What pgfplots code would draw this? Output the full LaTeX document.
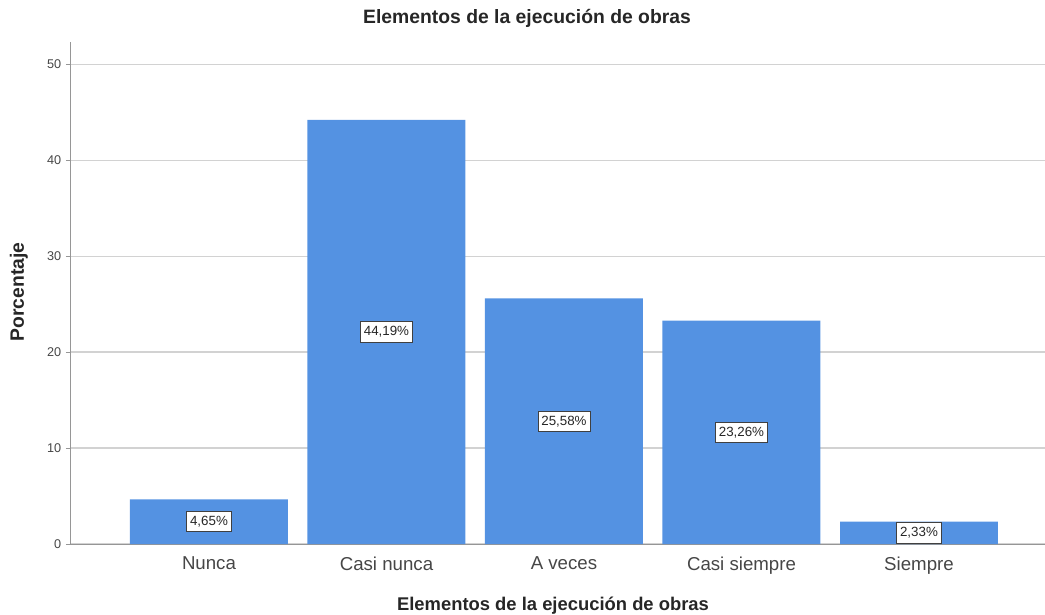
\documentclass[border=0pt]{standalone}
\usepackage{fontspec}
\setmainfont{Liberation Sans}
\usepackage{pgfplots}
\usepackage{pgfplotstable}
\pgfplotsset{compat=1.18}
\definecolor{barblue}{RGB}{84,146,226}
\definecolor{gridgray}{RGB}{210,210,210}
\definecolor{axgray}{RGB}{150,150,150}
\definecolor{txtgray}{RGB}{70,70,70}
\pgfplotstableread{
x v lab
0 4.65 4,65
1 44.19 44,19
2 25.58 25,58
3 23.26 23,26
4 2.33 2,33
}\datatable
\begin{document}
\begin{tikzpicture}[x=0.75pt,y=0.75pt]
\useasboundingbox (0,0) rectangle (1045,614);
\begin{axis}[
  at={(52.5pt,52.5pt)}, anchor=south west,
  scale only axis, width=731.25pt, height=376.5pt,
  xmin=-0.783, xmax=4.71, ymin=0, ymax=52.3,
  axis x line*=bottom, axis y line*=left,
  axis line style={axgray, -},
  xtick=data, xticklabels={Nunca,Casi nunca,A veces,Casi siempre,Siempre},
  ytick={0,10,20,30,40,50},
  ymajorgrids, grid style={gridgray, line width=0.8pt},
  tick align=outside, major tick length=3pt,
  xtick style={draw=none}, ytick style={draw=axgray},
  /pgf/number format/assume math mode=true,
  xticklabel style={font=\fontsize{14}{16}\selectfont, text=txtgray, yshift=-3pt},
  yticklabel style={font=\fontsize{9.5}{11}\selectfont, text=txtgray},
]
\addplot[ybar, bar width=0.89, fill=barblue, draw=none] table[x=x,y=v]{\datatable};
\addplot[draw=none, mark=none, point meta=explicit symbolic,
  nodes near coords={\pgfplotspointmeta\%},
  every node near coord/.style={anchor=center, fill=white, draw=black!75, line width=0.6pt, inner xsep=2.5pt, inner ysep=3.5pt, font=\fontsize{10}{11}\selectfont, text=black!85}]
  table[x=x, y expr=\thisrow{v}/2, meta=lab]{\datatable};
\end{axis}
\node[font=\bfseries\fontsize{14.5}{16}\selectfont, text=black!85] at (527,596) {Elementos de la ejecución de obras};
\node[font=\bfseries\fontsize{13.8}{16}\selectfont, text=black!85] at (553,8) {Elementos de la ejecución de obras};
\node[font=\bfseries\fontsize{14.5}{16}\selectfont, text=black!85, rotate=90] at (19,322) {Porcentaje};
\end{tikzpicture}
\end{document}
